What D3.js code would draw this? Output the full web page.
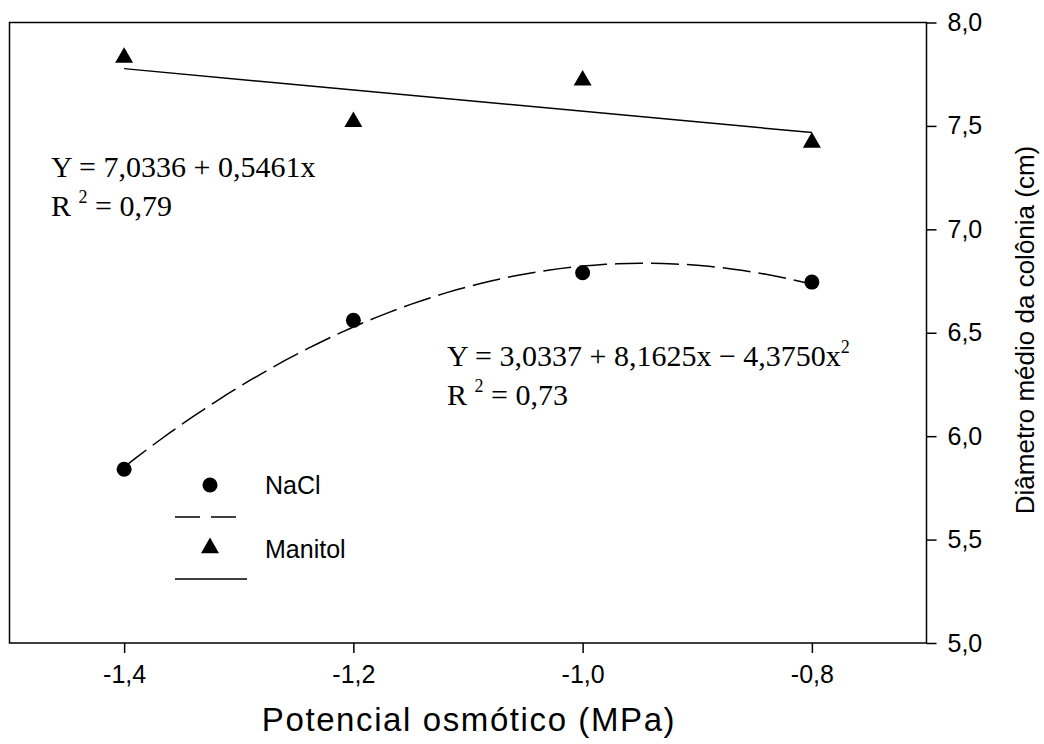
<!DOCTYPE html>
<html>
<head>
<meta charset="utf-8">
<script src="https://cdn.jsdelivr.net/npm/d3@7"></script>
<style>
  body { margin: 0; background: #fff; }
  text { font-family: Arial, "Liberation Sans", sans-serif; }
  .eq { font-family: "Times New Roman", "Liberation Serif", serif; }
</style>
</head>
<body>
<div id="chart"></div>
<script>
// data
var potencial = [-1.4, -1.2, -1.0, -0.8];
var nacl = [5.84, 6.56, 6.79, 6.745];
var manitol = [7.83, 7.52, 7.72, 7.42];
var xTicks = [-1.4, -1.2, -1.0, -0.8];
var yTicks = [5.0, 5.5, 6.0, 6.5, 7.0, 7.5, 8.0];

var svgWidth = 1044;
var svgHeight = 744;

var margin = { top: 22.5, right: 117.5, bottom: 101, left: 9.5 };
var width = svgWidth - margin.left - margin.right;
var height = svgHeight - margin.top - margin.bottom;

var svg = d3.select("#chart")
  .append("svg")
  .attr("width", svgWidth)
  .attr("height", svgHeight);

var chartGroup = svg.append("g")
  .attr("transform", `translate(${margin.left}, ${margin.top})`);

var x = d3.scaleLinear().domain([-1.5, -0.7]).range([0, width]);
var y = d3.scaleLinear().domain([5, 8]).range([height, 0]);

var comma = d => d3.format(".1f")(d).replace(".", ",").replace("−", "-");

// frame
chartGroup.append("rect")
  .attr("width", width)
  .attr("height", height)
  .attr("fill", "none")
  .attr("stroke", "#000")
  .attr("stroke-width", 1.5);

var bottomAxis = d3.axisBottom(x).tickValues(xTicks).tickSize(10).tickPadding(12).tickFormat(comma);
var rightAxis = d3.axisRight(y).tickValues(yTicks).tickSize(10).tickPadding(11).tickFormat(comma);

var xg = chartGroup.append("g")
  .attr("transform", `translate(0, ${height})`)
  .call(bottomAxis);
var yg = chartGroup.append("g")
  .attr("transform", `translate(${width}, 0)`)
  .call(rightAxis);

[xg, yg].forEach(function (g) {
  g.select(".domain").remove();
  g.selectAll(".tick line").attr("stroke", "#000").attr("stroke-width", 1.5);
  g.selectAll(".tick text").attr("fill", "#000").style("font-size", "25px")
    .style("font-family", "Arial, 'Liberation Sans', sans-serif");
});

// least squares fits
function linFit(xs, ys) {
  var mx = d3.mean(xs), my = d3.mean(ys);
  var sxy = d3.sum(xs, (v, i) => (v - mx) * (ys[i] - my));
  var sxx = d3.sum(xs, v => (v - mx) * (v - mx));
  var b = sxy / sxx;
  return v => my + b * (v - mx);
}
function quadFit(xs, ys) {
  // normal equations for y = a + b x + c x^2
  var S = k => d3.sum(xs, v => Math.pow(v, k));
  var T = k => d3.sum(xs, (v, i) => Math.pow(v, k) * ys[i]);
  var A = [[S(0), S(1), S(2)], [S(1), S(2), S(3)], [S(2), S(3), S(4)]];
  var B = [T(0), T(1), T(2)];
  // gaussian elimination
  for (var i = 0; i < 3; i++) {
    for (var j = i + 1; j < 3; j++) {
      var f = A[j][i] / A[i][i];
      for (var k = i; k < 3; k++) A[j][k] -= f * A[i][k];
      B[j] -= f * B[i];
    }
  }
  var c = [0, 0, 0];
  for (var i = 2; i >= 0; i--) {
    var s = B[i];
    for (var k = i + 1; k < 3; k++) s -= A[i][k] * c[k];
    c[i] = s / A[i][i];
  }
  return v => c[0] + c[1] * v + c[2] * v * v;
}

var lin = linFit(potencial, manitol);
var quad = quadFit(potencial, nacl);
var xs = d3.range(0, 61).map(i => -1.4 + i * 0.01);

var line = d3.line().x(d => x(d[0])).y(d => y(d[1]));

chartGroup.append("path")
  .datum(xs.map(v => [v, quad(v)]))
  .attr("d", line)
  .attr("fill", "none")
  .attr("stroke", "#000")
  .attr("stroke-width", 1.5)
  .attr("stroke-dasharray", "28,8");

chartGroup.append("path")
  .datum([[-1.4, lin(-1.4)], [-0.8, lin(-0.8)]])
  .attr("d", line)
  .attr("fill", "none")
  .attr("stroke", "#000")
  .attr("stroke-width", 1.5);

// markers
chartGroup.selectAll(".nacl")
  .data(potencial)
  .enter()
  .append("circle")
  .attr("cx", d => x(d))
  .attr("cy", (d, i) => y(nacl[i]))
  .attr("r", 7.5)
  .attr("fill", "#000");

var tri = d3.symbol().type(d3.symbolTriangle).size(140);
chartGroup.selectAll(".man")
  .data(potencial)
  .enter()
  .append("path")
  .attr("d", tri)
  .attr("transform", (d, i) => `translate(${x(d)}, ${y(manitol[i])})`)
  .attr("fill", "#000");

// equations
function equation(xp, yp, main, sup, r2) {
  var t = svg.append("text").attr("class", "eq").attr("x", xp).attr("y", yp)
    .style("font-size", "30px").attr("fill", "#000");
  t.append("tspan").text(main);
  if (sup) t.append("tspan").attr("dy", -13).style("font-size", "18px").text(sup);
  var r = svg.append("text").attr("class", "eq").attr("x", xp).attr("y", yp + 39)
    .style("font-size", "30px").attr("fill", "#000");
  r.append("tspan").text("R ");
  r.append("tspan").attr("dy", -13).style("font-size", "18px").text("2");
  r.append("tspan").attr("dy", 13).text(" = " + r2);
}
equation(51, 177, "Y = 7,0336 + 0,5461x", null, "0,79");
equation(447, 366, "Y = 3,0337 + 8,1625x \u2212 4,3750x", "2", "0,73");

// legend
var legend = svg.append("g");
legend.append("circle").attr("cx", 210).attr("cy", 485).attr("r", 7.5).attr("fill", "#000");
legend.append("text").attr("x", 265).attr("y", 494).style("font-size", "25px").text("NaCl");
legend.append("line").attr("x1", 175).attr("x2", 237).attr("y1", 517).attr("y2", 517)
  .attr("stroke", "#000").attr("stroke-width", 1.5).attr("stroke-dasharray", "25,11");
legend.append("path").attr("d", tri).attr("transform", "translate(210, 548)").attr("fill", "#000");
legend.append("text").attr("x", 265).attr("y", 558).style("font-size", "25px").text("Manitol");
legend.append("line").attr("x1", 175).attr("x2", 247).attr("y1", 579).attr("y2", 579)
  .attr("stroke", "#000").attr("stroke-width", 1.5);

// axis titles
svg.append("text")
  .attr("x", 469)
  .attr("y", 731)
  .style("text-anchor", "middle")
  .style("font-size", "33px")
  .style("letter-spacing", "1.6px")
  .text("Potencial osmótico (MPa)");

svg.append("text")
  .attr("transform", "translate(1034, 330) rotate(-90)")
  .style("text-anchor", "middle")
  .style("font-size", "26px")
  .text("Diâmetro médio da colônia (cm)");
</script>
</body>
</html>
